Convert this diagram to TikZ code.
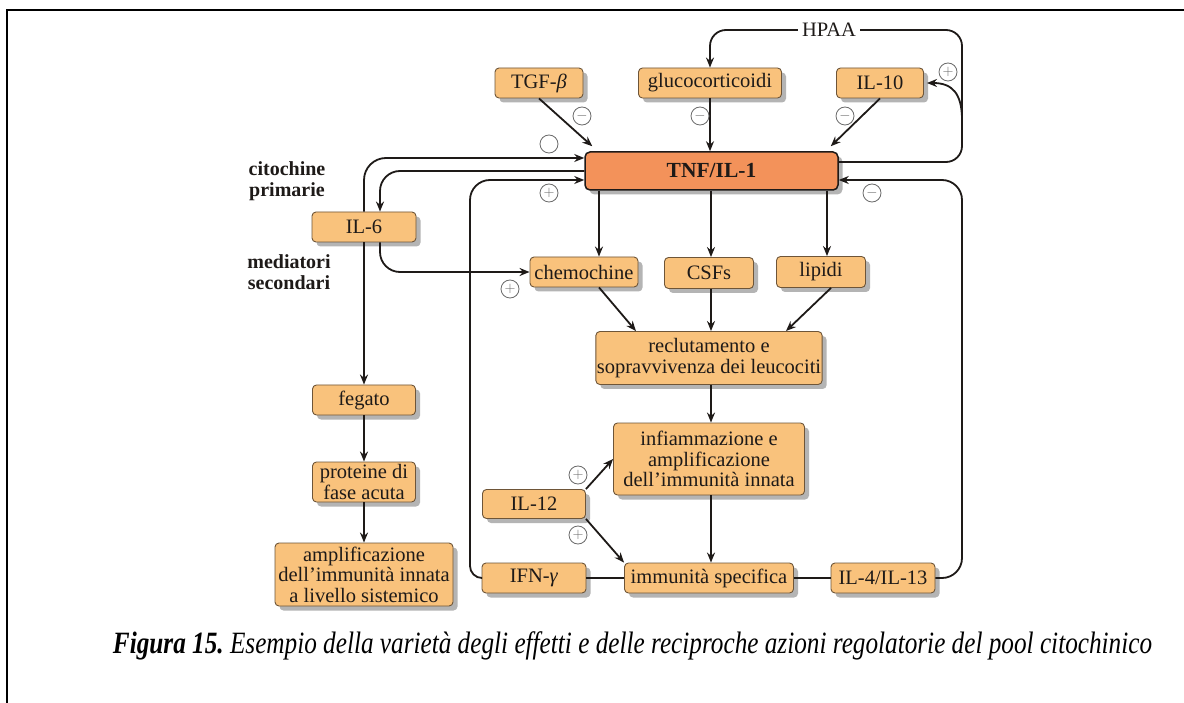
\documentclass[tikz,border=0pt]{standalone}
\usepackage{fontspec}
\setmainfont{Liberation Serif}
\usepackage{graphicx}
\usetikzlibrary{shadows,arrows.meta}
\definecolor{boxfill}{HTML}{F9C27C}
\definecolor{boxdraw}{HTML}{6E5538}
\definecolor{tnffill}{HTML}{F3925A}
\definecolor{ink}{HTML}{1E1A18}
\definecolor{sgngray}{HTML}{6A6A6A}
\begin{document}
\begin{tikzpicture}[x=1pt,y=-1pt,
  shad/.style={drop shadow={shadow xshift=4.5pt,shadow yshift=-4.5pt,fill=black!45,opacity=0.65}},
  box/.style={draw=boxdraw,fill=boxfill,line width=0.9pt,rounded corners=4pt,inner sep=1pt,align=center,text=ink,font=\fontsize{20.5}{20.5}\selectfont,shad},
  tnfbox/.style={draw=ink,fill=tnffill,line width=1.5pt,rounded corners=5pt,inner sep=1pt,text=ink,font=\bfseries\fontsize{21.5}{21.5}\selectfont,shad},
  arr/.style={draw=ink,line width=1.8pt,-{Stealth[length=10pt,width=8pt]}},
  ln/.style={draw=ink,line width=1.8pt},
  sgn/.style={circle,draw=sgngray,line width=0.8pt,minimum size=18pt,inner sep=0pt,text=sgngray,font=\fontsize{15}{15}\selectfont},
  lab/.style={align=center,text=ink,font=\bfseries\fontsize{20}{21}\selectfont}
]
\useasboundingbox (0,0) rectangle (1184,703);
\fill[white] (0,0) rectangle (1184,703);
\draw[line width=2pt,black] (7,703) -- (7,10) -- (1184,10);

% nodes
\node[box,minimum width=88pt,minimum height=30pt] (tgf) at (539,83) {TGF-\textit{β}};
\node[box,minimum width=143pt,minimum height=30pt] (glu) at (710,83) {glucocorticoidi};
\node[box,minimum width=87pt,minimum height=30pt] (il10) at (880,83) {IL-10};
\node[tnfbox,minimum width=253pt,minimum height=38pt] (tnf) at (711.5,171) {TNF/IL-1};
\node[box,minimum width=104pt,minimum height=30pt] (il6) at (364,227) {IL-6};
\node[box,minimum width=108pt,minimum height=30pt] (chem) at (584,272) {chemochine};
\node[box,minimum width=89pt,minimum height=31pt] (csf) at (709,273) {CSFs};
\node[box,minimum width=89pt,minimum height=31pt] (lip) at (821,272) {lipidi};
\node[box,minimum width=221pt,minimum height=53pt] (rec) at (709,358) {reclutamento e\\sopravvivenza dei leucociti};
\node[box,minimum width=191pt,minimum height=72pt] (inf) at (709,459) {infiammazione e\\amplificazione\\dell’immunità innata};
\node[box,minimum width=169pt,minimum height=30pt] (imm) at (709,578) {immunità specifica};
\node[box,minimum width=104pt,minimum height=30pt] (il4) at (883,578) {IL-4/IL-13};
\node[box,minimum width=104pt,minimum height=30pt] (ifn) at (534,578) {IFN-\textit{γ}};
\node[box,minimum width=103pt,minimum height=29pt] (il12) at (534,504) {IL-12};
\node[box,minimum width=103pt,minimum height=30pt] (feg) at (364,400) {fegato};
\node[box,minimum width=103pt,minimum height=40pt] (pro) at (364,482) {proteine di\\fase acuta};
\node[box,minimum width=178pt,minimum height=63pt] (amp) at (364,574.5) {amplificazione\\dell’immunità innata\\a livello sistemico};
\node[text=ink,font=\fontsize{20.5}{20.5}\selectfont,inner xsep=4pt] (hpaa) at (829,30) {HPAA};
\node[lab] (lab1) at (287,181) {citochine\\primarie};
\node[lab] (lab2) at (289,272) {mediatori\\secondari};

% helper coordinates
\coordinate (cx1) at (599,0);
\coordinate (cx2) at (711,0);
\coordinate (cx3) at (827,0);
\coordinate (rx) at (962,30);
\coordinate (bx) at (962,400);
\coordinate (lx) at (470,400);
\coordinate (br) at (962,120);

% HPAA loop
\draw[arr,rounded corners=16pt] (hpaa.west) -| (glu.north);
\draw[ln,rounded corners=16pt] ([yshift=9pt]tnf.east) -| (rx) -- (hpaa.east);
\draw[arr] (br) .. controls (962,93) and (952,83) .. ([xshift=3pt]il10.east);

% inhibitors into TNF
\draw[arr] (tgf.south) -- ([xshift=8pt,yshift=5pt]tnf.north west);
\draw[arr] (glu.south) -- (glu.south |- tnf.north);
\draw[arr] (il10.south) -- ([xshift=-8pt,yshift=5pt]tnf.north east);

% IL-6 connections
\draw[arr,rounded corners=22pt] (il6.north) |- ([yshift=13pt]tnf.west);
\draw[arr,rounded corners=20pt] (tnf.west) -| ([xshift=16pt]il6.north);
\draw[arr,rounded corners=20pt] ([xshift=16pt]il6.south) |- (chem.west);
\draw[arr] (il6.south) -- (feg.north);
\draw[arr] (feg.south) -- (pro.north);
\draw[arr] (pro.south) -- (amp.north);

% feedback loops
\draw[arr,rounded corners=12pt] (ifn.west) -| (lx) [rounded corners=20pt] |- ([yshift=-9pt]tnf.west);
\draw[arr,rounded corners=20pt] (il4.east) -| (bx) |- ([yshift=-9pt]tnf.east);

% downstream
\draw[arr] (tnf.south -| cx1) -- (chem.north -| cx1);
\draw[arr] (tnf.south -| cx2) -- (csf.north -| cx2);
\draw[arr] (tnf.south -| cx3) -- (lip.north -| cx3);
\draw[arr] (chem.south -| cx1) -- ([xshift=-73pt]rec.north);
\draw[arr] (csf.south -| cx2) -- (rec.north -| cx2);
\draw[arr] ([xshift=10pt]lip.south) -- ([xshift=77pt]rec.north);
\draw[arr] (rec.south -| cx2) -- (inf.north -| cx2);
\draw[arr] (inf.south -| cx2) -- (imm.north -| cx2);
\draw[arr] (il12.north east) -- (inf.west);
\draw[arr] (il12.south east) -- (imm.north west);
\draw[ln] (ifn.east) -- (imm.west);
\draw[ln] (imm.east) -- (il4.west);

% signs
\node[sgn] (s1) at (582,116) {$-$};
\node[sgn] (s2) at (700,116) {$-$};
\node[sgn] (s3) at (845,116) {$-$};
\node[sgn] (s4) at (549,144) {};
\node[sgn] (s5) at (549,193) {$+$};
\node[sgn] (s6) at (872,193) {$-$};
\node[sgn] (s7) at (948,72) {$+$};
\node[sgn] (s8) at (510,289) {$+$};
\node[sgn] (s9) at (578,475) {$+$};
\node[sgn] (s10) at (578,535) {$+$};

% caption
\node[anchor=base,inner sep=0pt,text=black] (cap) at (632.5,653) {\resizebox{1039pt}{\height}{\fontsize{31}{31}\selectfont\bfseries\itshape Figura 15.\ \mdseries Esempio della varietà degli effetti e delle reciproche azioni regolatorie del pool citochinico}};
\end{tikzpicture}
\end{document}
